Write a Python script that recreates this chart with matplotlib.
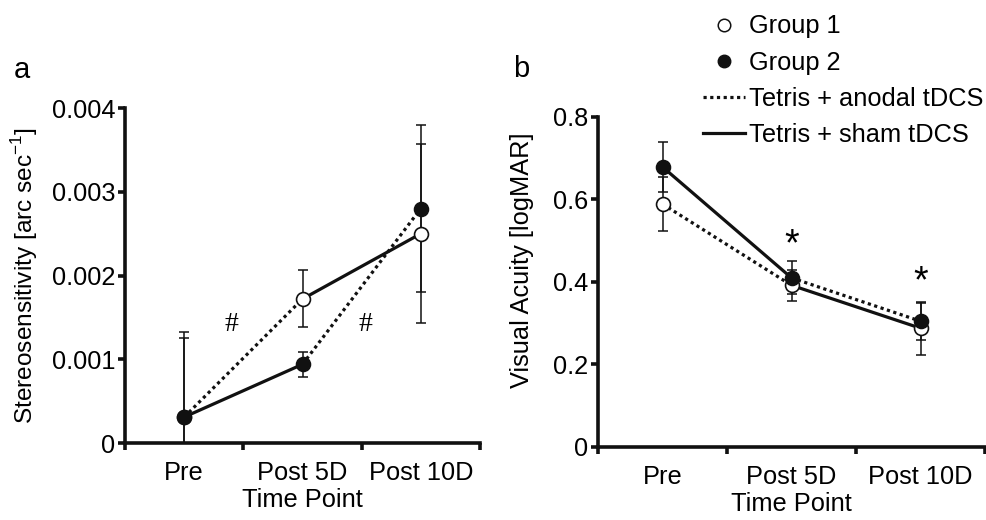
import numpy as np
import matplotlib
matplotlib.use('Agg')
import matplotlib.pyplot as plt
from matplotlib.lines import Line2D

plt.rcParams['font.family'] = ['Liberation Sans', 'DejaVu Sans']

categories = ['Pre', 'Post 5D', 'Post 10D']

# panel a: stereosensitivity [arc sec^-1]
stereo_g1 = [0.00031, 0.00172, 0.0025]
stereo_g1_err = [0.00095, 0.00034, 0.00107]
stereo_g2 = [0.00031, 0.00094, 0.0028]
stereo_g2_err = [0.00102, 0.00015, 0.0010]

# panel b: visual acuity [logMAR]
va_g1 = [0.589, 0.392, 0.288]
va_g1_err = [0.066, 0.038, 0.064]
va_g2 = [0.679, 0.41, 0.305]
va_g2_err = [0.061, 0.04, 0.045]

FS = 18.3
LW = 2.3
x = np.arange(len(categories)) + 0.5
DOT = (0, (1.0, 1.1))


def panel(ax, g1, e1, g2, e2, ymax, ystep):
    ax.errorbar(x, g1, yerr=e1, fmt='none', ecolor='#111111', elinewidth=1.1,
                capsize=3.5, capthick=1.1, zorder=2)
    ax.errorbar(x, g2, yerr=e2, fmt='none', ecolor='#111111', elinewidth=1.1,
                capsize=3.5, capthick=1.1, zorder=2)
    # crossover: group 1 anodal first, group 2 sham first
    ax.plot(x[0:2], g1[0:2], color='#111111', lw=LW, ls=DOT, zorder=3)
    ax.plot(x[0:2], g2[0:2], color='#111111', lw=LW, ls='-', zorder=3)
    ax.plot(x[1:3], g1[1:3], color='#111111', lw=LW, ls='-', zorder=3)
    ax.plot(x[1:3], g2[1:3], color='#111111', lw=LW, ls=DOT, zorder=3)
    ax.plot(x, g1, 'o', ms=10, mfc='white', mec='#111111', mew=1.2, ls='none', zorder=4)
    ax.plot(x, g2, 'o', ms=10, mfc='#111111', mec='#111111', mew=1.2, ls='none', zorder=5)

    ax.set_xlim(0, 3)
    ax.set_ylim(0, ymax)
    ax.spines['top'].set_visible(False)
    ax.spines['right'].set_visible(False)
    for s in ['left', 'bottom']:
        ax.spines[s].set_linewidth(2.6)
        ax.spines[s].set_color('#111111')
    ax.set_yticks(np.arange(0, ymax + ystep / 2, ystep))
    ax.yaxis.set_major_formatter(plt.FuncFormatter(lambda v, p: '0' if v == 0 else f'{v:g}'))
    ax.set_xticks([0, 1, 2, 3])
    ax.set_xticklabels([])
    ax.set_xticks(x, minor=True)
    ax.set_xticklabels(categories, minor=True)
    ax.tick_params(axis='both', which='major', direction='out', length=5, width=2.6,
                   color='#111111', labelsize=FS, pad=2)
    ax.tick_params(axis='x', which='minor', length=0, labelsize=FS, pad=13)
    ax.set_xlabel('Time Point', fontsize=FS, labelpad=2)


fig = plt.figure(figsize=(9.86, 5.2), dpi=100)
ax1 = fig.add_axes([0.1268, 0.148, 0.36, 0.6443])
ax2 = fig.add_axes([0.6065, 0.1404, 0.3925, 0.6346])

panel(ax1, stereo_g1, stereo_g1_err, stereo_g2, stereo_g2_err, 0.004, 0.001)
panel(ax2, va_g1, va_g1_err, va_g2, va_g2_err, 0.8, 0.2)

ax1.set_ylabel('Stereosensitivity [arc sec$^{\\mathregular{-1}}$]', fontsize=17.6)
ax1.yaxis.set_label_coords(-0.24, 0.5)
ax2.set_ylabel('Visual Acuity [logMAR]', fontsize=FS)
ax2.yaxis.set_label_coords(-0.165, 0.567)

ax1.text(0.9, 0.00141, '#', fontsize=20, family='Liberation Serif', ha='center', va='center')
ax1.text(2.03, 0.00141, '#', fontsize=20, family='Liberation Serif', ha='center', va='center')
ax2.text(1.5, 0.49, '*', fontsize=27, ha='center', va='center')
ax2.text(2.5, 0.40, '*', fontsize=27, ha='center', va='center')

fig.text(0.014, 0.865, 'a', fontsize=21, va='center')
fig.text(0.520, 0.868, 'b', fontsize=21, va='center')

handles = [
    Line2D([], [], marker='o', ls='none', ms=9, mfc='white', mec='#111111', mew=1.1),
    Line2D([], [], marker='o', ls='none', ms=9, mfc='#111111', mec='#111111'),
    Line2D([], [], color='#111111', lw=LW, ls=DOT),
    Line2D([], [], color='#111111', lw=LW, ls='-'),
]
labels = ['Group 1', 'Group 2', 'Tetris + anodal tDCS', 'Tetris + sham tDCS']
fig.legend(handles, labels, loc='upper left', bbox_to_anchor=(0.708, 0.982),
           frameon=False, fontsize=FS, handlelength=1.65, handletextpad=0.15,
           labelspacing=0.48, borderaxespad=0, borderpad=0.2)

fig.savefig('out.png', dpi=100)
